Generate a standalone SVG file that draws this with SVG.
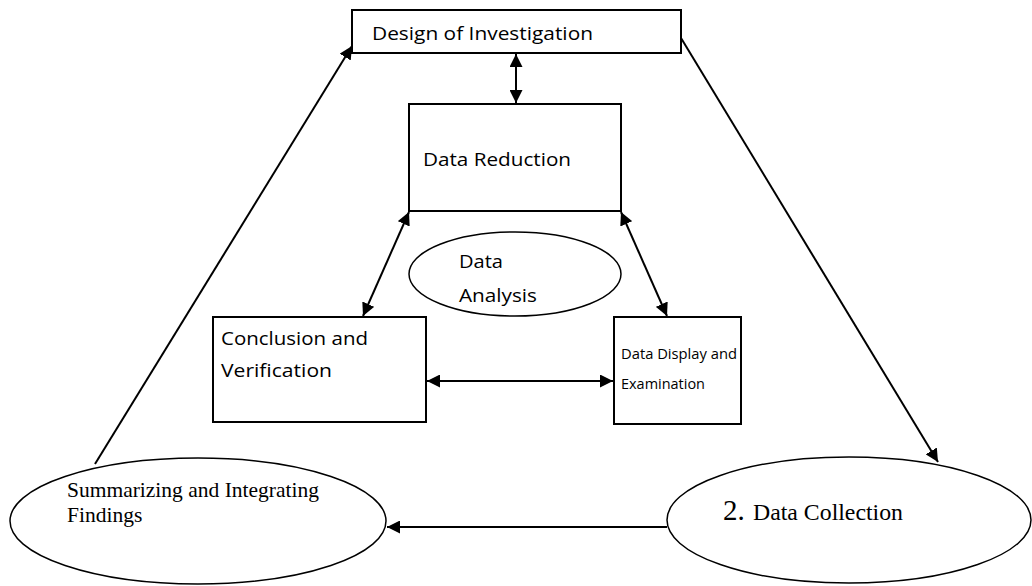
<svg xmlns="http://www.w3.org/2000/svg" width="1032" height="586" viewBox="0 0 1032 586">
<style>
.box{fill:#fff;stroke:#000;stroke-width:2}
.ell{fill:#fff;stroke:#000;stroke-width:1.5}
.c{stroke:#000;stroke-width:2;fill:none}
.sans{font-family:"Open Sans","Liberation Sans",Arial,sans-serif;fill:#000;font-size:19px}
.small{font-size:15px}
.serif{font-family:"Liberation Serif","Times New Roman",serif;fill:#000;font-size:21.5px}
.big{font-size:29px}
.mid{font-size:23px}
</style>
<defs>
<marker id="ah" viewBox="0 0 10 10" refX="10" refY="5" markerWidth="6.5" markerHeight="6.5" markerUnits="strokeWidth" orient="auto-start-reverse">
<path d="M0,0 L10,5 L0,10 z" fill="#000"/>
</marker>
</defs>
<rect width="1032" height="586" fill="#fff"/>
<g id="connectors">
<line class="c" x1="95" y1="464" x2="352" y2="46" marker-end="url(#ah)"/>
<line class="c" x1="681" y1="38" x2="938" y2="462" marker-end="url(#ah)"/>
<line class="c" x1="667" y1="527" x2="387" y2="527" marker-end="url(#ah)"/>
<line class="c" x1="516" y1="54" x2="516" y2="103" marker-start="url(#ah)" marker-end="url(#ah)"/>
<line class="c" x1="409" y1="212" x2="363" y2="316" marker-start="url(#ah)" marker-end="url(#ah)"/>
<line class="c" x1="621" y1="212" x2="667" y2="316" marker-start="url(#ah)" marker-end="url(#ah)"/>
<line class="c" x1="427" y1="381" x2="613" y2="381" marker-start="url(#ah)" marker-end="url(#ah)"/>
</g>
<g id="design">
<rect class="box" x="352" y="10" width="329" height="43"/>
<text class="sans" x="372" y="40" textLength="221" lengthAdjust="spacingAndGlyphs">Design of Investigation</text>
</g>
<g id="reduction">
<rect class="box" x="409" y="104" width="212" height="107"/>
<text class="sans" x="423" y="166" textLength="148" lengthAdjust="spacingAndGlyphs">Data Reduction</text>
</g>
<g id="analysis">
<ellipse class="ell" cx="515" cy="274" rx="106" ry="42"/>
<text class="sans" x="459" y="268" textLength="44" lengthAdjust="spacingAndGlyphs">Data</text>
<text class="sans" x="459" y="302" textLength="78" lengthAdjust="spacingAndGlyphs">Analysis</text>
</g>
<g id="conclusion">
<rect class="box" x="213" y="317" width="213" height="105"/>
<text class="sans" x="221" y="345" textLength="147" lengthAdjust="spacingAndGlyphs">Conclusion and</text>
<text class="sans" x="221" y="377" textLength="111" lengthAdjust="spacingAndGlyphs">Verification</text>
</g>
<g id="display">
<rect class="box" x="614" y="317" width="127" height="107"/>
<text class="sans small" x="621" y="359" textLength="116" lengthAdjust="spacingAndGlyphs">Data Display and</text>
<text class="sans small" x="621" y="389" textLength="84" lengthAdjust="spacingAndGlyphs">Examination</text>
</g>
<g id="summarizing">
<ellipse class="ell" cx="198" cy="521" rx="188" ry="63"/>
<text class="serif" x="67" y="497">Summarizing and Integrating</text>
<text class="serif" x="67" y="522">Findings</text>
</g>
<g id="collection">
<ellipse class="ell" cx="849" cy="520" rx="182" ry="63"/>
<text class="serif big" x="723" y="520">2.</text>
<text class="serif mid" x="753" y="520" textLength="150" lengthAdjust="spacingAndGlyphs">Data Collection</text>
</g>
</svg>
